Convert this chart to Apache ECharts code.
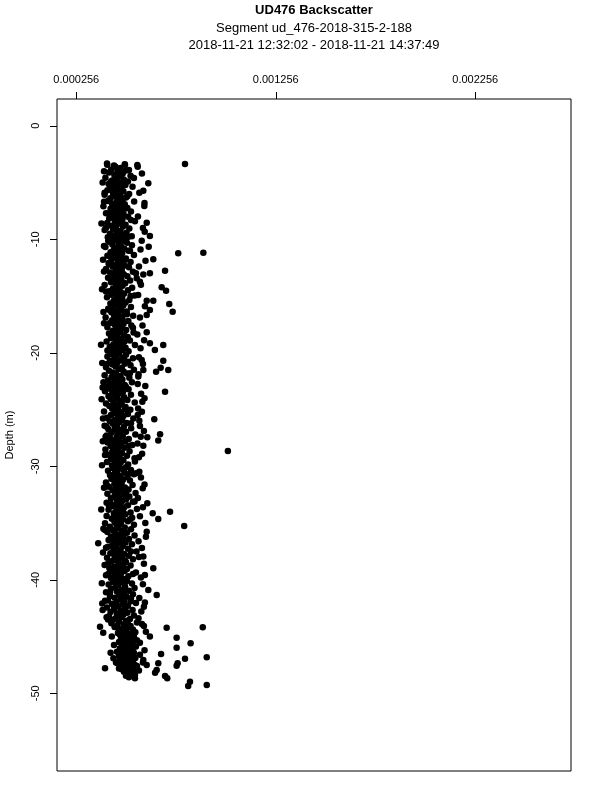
<!DOCTYPE html>
<html><head><meta charset="utf-8">
<script src="https://cdn.jsdelivr.net/npm/echarts@6/dist/echarts.min.js"></script>
<style>html,body{margin:0;padding:0;background:#fff}#chart{width:600px;height:800px}</style>
</head><body><div id="chart"></div>
<script>
const titleLines = ['UD476 Backscatter', 'Segment ud_476-2018-315-2-188', '2018-11-21 12:32:02 - 2018-11-21 14:37:49'];
const yAxisName = 'Depth (m)';
const xTicks = [0.000256, 0.001256, 0.002256];
const yTicks = [0, -10, -20, -30, -40, -50];
// points: [backscatter in units of 1e-6, depth in m]
const pointsA = [[410,-3.32],[499,-3.38],[562,-3.45],[452,-3.61],[478,-3.72],[431,-3.85],[505,-3.93],[462,-4.04],[420,-4.12],[489,-4.21],[447,-4.33],[528,-4.41],[470,-4.47],[402,-4.58],[458,-4.66],[494,-4.74],[436,-4.83],[515,-4.91],[474,-4.99],[445,-5.08],[418,-5.14],[502,-5.22],[466,-5.31],[538,-5.37],[430,-5.45],[481,-5.52],[455,-5.61],[412,-5.68],[492,-5.77],[468,-5.84],[440,-5.93],[521,-6.01],[398,-6.07],[476,-6.15],[450,-6.22],[505,-6.31],[427,-6.38],[463,-6.46],[488,-6.53],[414,-6.62],[546,-6.68],[457,-6.77],[435,-6.85],[499,-6.92],[472,-7.01],[392,-7.08],[451,-7.16],[512,-7.24],[428,-7.31],[484,-7.39],[461,-7.47],[530,-7.55],[443,-7.62],[405,-7.71],[493,-7.78],[470,-7.86],[437,-7.94],[516,-8.02],[458,-8.09],[421,-8.17],[487,-8.26],[449,-8.33],[550,-8.41],[476,-8.48],[411,-8.57],[465,-8.64],[503,-8.72],[432,-8.81],[490,-8.88],[455,-8.96],[522,-9.04],[441,-9.11],[398,-9.19],[478,-9.27],[460,-9.35],[508,-9.42],[425,-9.51],[486,-9.58],[447,-9.66],[534,-9.73],[414,-9.82],[469,-9.89],[495,-9.97],
[445,-3.5],[520,-3.9],[395,-4.0],[480,-4.3],[545,-4.6],[430,-4.9],[490,-5.2],[460,-5.5],[398,-5.9],[512,-6.2],[470,-6.6],[440,-7.0],[498,-7.3],[420,-7.7],[482,-8.0],[530,-8.3],[450,-8.7],[405,-9.0],[470,-9.4],[515,-9.8],[438,-10.0]];
const pointsB = [[455,-10.05],[492,-10.13],[421,-10.21],[510,-10.3],[468,-10.37],[437,-10.45],[535,-10.52],[480,-10.61],[402,-10.68],[458,-10.76],[497,-10.84],[444,-10.92],[518,-11.0],[472,-11.07],[428,-11.15],[486,-11.23],[461,-11.31],[545,-11.38],[412,-11.46],[478,-11.54],[450,-11.62],[505,-11.69],[433,-11.77],[490,-11.85],[466,-11.93],[528,-12.0],[418,-12.08],[475,-12.16],[447,-12.24],[499,-12.31],[438,-12.39],[520,-12.47],[462,-12.55],[405,-12.62],[484,-12.7],[453,-12.78],[540,-12.86],[426,-12.93],[470,-13.01],[494,-13.09],[441,-13.17],[512,-13.25],[458,-13.32],[415,-13.4],[481,-13.48],[448,-13.56],[526,-13.63],[467,-13.71],[430,-13.79],[501,-13.87],[455,-13.95],[398,-14.02],[488,-14.1],[473,-14.18],[536,-14.26],[440,-14.33],[462,-14.41],[515,-14.49],[422,-14.57],[479,-14.64],[451,-14.72],[495,-14.8],[434,-14.88],[548,-14.96],[468,-15.03],[410,-15.11],[486,-15.19],[457,-15.27],[522,-15.34],[444,-15.42],[475,-15.5],[503,-15.58],[427,-15.66],[461,-15.73],[492,-15.81],[438,-15.89],[530,-15.97],[470,-16.04],[416,-16.12],[483,-16.2],[452,-16.28],[509,-16.36],[432,-16.43],[466,-16.51],[498,-16.59],[445,-16.67],[541,-16.74],[477,-16.82],[403,-16.9],[459,-16.98],[488,-17.06],[436,-17.13],[517,-17.21],[464,-17.29],[425,-17.37],[493,-17.44],[449,-17.52],[532,-17.6],[471,-17.68],[412,-17.76],[485,-17.83],[456,-17.91],[506,-17.99],[439,-18.07],[474,-18.14],[543,-18.22],[420,-18.3],[462,-18.38],[497,-18.46],[447,-18.53],[514,-18.61],[430,-18.69],[480,-18.77],[455,-18.85],[525,-18.92],[408,-19.0],[468,-19.08],[490,-19.16],[442,-19.24],[550,-19.31],[476,-19.39],[424,-19.47],[503,-19.55],[459,-19.63],[435,-19.71],[486,-19.78],[518,-19.86],[450,-19.94],
[470,-10.2],[395,-10.6],[525,-11.0],[448,-11.4],[500,-11.8],[420,-12.2],[478,-12.6],[555,-13.0],[440,-13.4],[492,-13.8],[460,-14.2],[405,-14.6],[528,-15.0],[450,-15.4],[485,-15.8],[420,-16.2],[510,-16.6],[462,-17.0],[395,-17.4],[540,-17.8],[475,-18.2],[432,-18.6],[498,-19.0],[455,-19.4],[412,-19.8]];
const pointsC = [[470,-20.02],[432,-20.1],[505,-20.18],[458,-20.26],[412,-20.33],[488,-20.41],[540,-20.49],[446,-20.57],[476,-20.65],[425,-20.72],[515,-20.8],[462,-20.88],[498,-20.96],[438,-21.04],[528,-21.11],[452,-21.19],[405,-21.27],[484,-21.35],[468,-21.43],[545,-21.5],[420,-21.58],[493,-21.66],[441,-21.74],[510,-21.82],[457,-21.89],[398,-21.97],[478,-22.05],[433,-22.13],[522,-22.21],[466,-22.28],[487,-22.36],[415,-22.44],[450,-22.52],[535,-22.6],[472,-22.67],[427,-22.75],[499,-22.83],[455,-22.91],[410,-22.99],[482,-23.06],[445,-23.14],[518,-23.22],[463,-23.3],[400,-23.38],[490,-23.45],[437,-23.53],[470,-23.61],[530,-23.69],[452,-23.77],[418,-23.84],[496,-23.92],[460,-24.0],[428,-24.08],[512,-24.16],[475,-24.23],[443,-24.31],[549,-24.39],[405,-24.47],[484,-24.55],[458,-24.62],[422,-24.7],[503,-24.78],[466,-24.86],[436,-24.94],[527,-25.01],[448,-25.09],[395,-25.17],[479,-25.25],[457,-25.33],[515,-25.4],[430,-25.48],[492,-25.56],[468,-25.64],[410,-25.72],[542,-25.79],[451,-25.87],[486,-25.95],[424,-26.03],[472,-26.11],[508,-26.18],[440,-26.26],[461,-26.34],[398,-26.42],[495,-26.5],[453,-26.57],[531,-26.65],[417,-26.73],[477,-26.81],[446,-26.89],[505,-26.96],[432,-27.04],[470,-27.12],[552,-27.2],[408,-27.28],[489,-27.35],[458,-27.43],[425,-27.51],[519,-27.59],[465,-27.67],[441,-27.74],[500,-27.82],[413,-27.9],[480,-27.98],[452,-28.06],[537,-28.13],[428,-28.21],[474,-28.29],[497,-28.37],[445,-28.45],[402,-28.52],[463,-28.6],[523,-28.68],[436,-28.76],[485,-28.84],[456,-28.91],[418,-28.99],[510,-29.07],[471,-29.15],[443,-29.23],[548,-29.3],[430,-29.38],[492,-29.46],[460,-29.54],[410,-29.62],[478,-29.69],[450,-29.77],[516,-29.85],[435,-29.93],
[445,-20.2],[495,-20.6],[410,-21.0],[470,-21.4],[525,-21.8],[440,-22.2],[392,-22.6],[505,-23.0],[460,-23.4],[420,-23.8],[485,-24.2],[440,-24.6],[500,-25.0],[465,-25.4],[390,-25.8],[530,-26.2],[450,-26.6],[490,-27.0],[415,-27.4],[470,-27.8],[520,-28.2],[440,-28.6],[400,-29.0],[485,-29.4],[455,-29.8]];
const pointsD = [[470,-30.01],[505,-30.09],[442,-30.17],[488,-30.25],[530,-30.32],[415,-30.4],[462,-30.48],[497,-30.56],[450,-30.64],[545,-30.71],[428,-30.79],[478,-30.87],[512,-30.95],[458,-31.03],[436,-31.1],[490,-31.18],[525,-31.26],[466,-31.34],[405,-31.42],[483,-31.49],[447,-31.57],[538,-31.65],[472,-31.73],[420,-31.81],[500,-31.88],[456,-31.96],[518,-32.04],[438,-32.12],[481,-32.2],[465,-32.27],[553,-32.35],[412,-32.43],[494,-32.51],[448,-32.59],[522,-32.66],[470,-32.74],[430,-32.82],[506,-32.9],[459,-32.98],[487,-33.05],[540,-33.13],[425,-33.21],[474,-33.29],[452,-33.37],[515,-33.44],[440,-33.52],[496,-33.6],[468,-33.68],[560,-33.76],[418,-33.84],[484,-33.91],[455,-33.99],[528,-34.07],[445,-34.15],[502,-34.23],[476,-34.3],[408,-34.38],[462,-34.46],[536,-34.54],[434,-34.62],[490,-34.69],[470,-34.77],[515,-34.85],[448,-34.93],[400,-35.01],[480,-35.08],[545,-35.16],[458,-35.24],[424,-35.32],[499,-35.4],[466,-35.47],[530,-35.55],[440,-35.63],[485,-35.71],[412,-35.79],[510,-35.86],[452,-35.94],[475,-36.02],[548,-36.1],[430,-36.18],[492,-36.25],[460,-36.33],[520,-36.41],[418,-36.49],[482,-36.57],[446,-36.64],[503,-36.72],[470,-36.8],[535,-36.88],[436,-36.96],[490,-37.03],[455,-37.11],[405,-37.19],[515,-37.27],[478,-37.35],[442,-37.42],[558,-37.5],[464,-37.58],[427,-37.66],[496,-37.74],[472,-37.81],[520,-37.89],[448,-37.97],[410,-38.05],[486,-38.13],[540,-38.2],[458,-38.28],[432,-38.36],[505,-38.44],[468,-38.52],[415,-38.59],[492,-38.67],[528,-38.75],[445,-38.83],[476,-38.91],[422,-38.98],[510,-39.06],[460,-39.14],[498,-39.22],[438,-39.3],[555,-39.37],[480,-39.45],[452,-39.53],[405,-39.61],[517,-39.69],[466,-39.76],[430,-39.84],[490,-39.92],
[450,-30.3],[515,-30.7],[432,-31.1],[478,-31.5],[395,-31.9],[505,-32.3],[460,-32.7],[548,-33.1],[420,-33.5],[490,-33.9],[445,-34.3],[525,-34.7],[465,-35.1],[392,-35.5],[500,-35.9],[440,-36.3],[470,-36.7],[415,-37.1],[530,-37.5],[455,-37.9],[500,-38.3],[398,-38.7],[485,-39.1],[540,-39.5],[445,-39.9]];
const pointsE = [[475,-40.02],[510,-40.1],[440,-40.18],[492,-40.26],[535,-40.33],[418,-40.41],[465,-40.49],[500,-40.57],[452,-40.65],[548,-40.72],[430,-40.8],[485,-40.88],[520,-40.96],[460,-41.04],[405,-41.11],[495,-41.19],[540,-41.27],[470,-41.35],[425,-41.43],[508,-41.5],[448,-41.58],[530,-41.66],[480,-41.74],[415,-41.82],[498,-41.89],[458,-41.97],[555,-42.05],[436,-42.13],[488,-42.21],[515,-42.28],[465,-42.36],[410,-42.44],[502,-42.52],[445,-42.6],[538,-42.67],[478,-42.75],[428,-42.83],[512,-42.91],[460,-42.99],[492,-43.06],[545,-43.14],[420,-43.22],[482,-43.3],[455,-43.38],[525,-43.45],[440,-43.53],[505,-43.61],[470,-43.69],[560,-43.77],[432,-43.84],[495,-43.92],[462,-44.0],[528,-44.08],[448,-44.16],[512,-44.24],[485,-44.31],[540,-44.39],[470,-44.47],[505,-44.55],[552,-44.63],[490,-44.7],[525,-44.78],[476,-44.86],[515,-44.94],[545,-45.02],[498,-45.09],[530,-45.17],[480,-45.25],[560,-45.33],[510,-45.41],[470,-45.48],[538,-45.56],[502,-45.64],[520,-45.72],[488,-45.8],[555,-45.87],[512,-45.95],[475,-46.03],[535,-46.11],[498,-46.19],[525,-46.26],[460,-46.34],[545,-46.42],[508,-46.5],[490,-46.58],[530,-46.65],[470,-46.73],[515,-46.81],[552,-46.89],[495,-46.97],[528,-47.04],[478,-47.12],[540,-47.2],[505,-47.28],[462,-47.36],[520,-47.43],[488,-47.51],[560,-47.59],[500,-47.67],[535,-47.75],[470,-47.82],[515,-47.9],[545,-48.0],[495,-48.1],[530,-48.25],[505,-48.45],[520,-48.6],
[455,-40.3],[500,-40.7],[425,-41.1],[480,-41.5],[530,-41.9],[445,-42.3],[495,-42.7],[470,-43.1],[415,-43.5],[515,-43.9],[500,-44.3],[465,-44.7],[530,-45.1],[495,-45.5],[545,-45.9],[485,-46.3],[520,-46.7],[505,-47.1],[550,-47.5],[480,-47.7],[510,-48.2]];
const pointsFringe = [[585,-4.2],[572,-5.9],[598,-6.8],[565,-8.0],[590,-9.0],[578,-10.9],[603,-11.9],[570,-12.4],[592,-13.1],[580,-14.0],[566,-14.9],[600,-15.9],[575,-16.9],[588,-17.6],[562,-18.4],[596,-18.9],[578,-19.6],[570,-20.4],[590,-21.0],[568,-21.9],[581,-23.6],[598,-24.0],[566,-24.9],[585,-25.2],[572,-26.0],[595,-26.9],[563,-28.0],[586,-28.9],[570,-29.2],[580,-31.0],[598,-31.6],[565,-32.8],[590,-33.6],[575,-34.4],[602,-35.0],[568,-36.6],[585,-37.2],[570,-38.0],[595,-38.6],[580,-39.8],[590,-40.4],[572,-41.6],[600,-42.0],[582,-42.8],[568,-43.4],[585,-43.9],[598,-46.2],[575,-46.6],[590,-47.3],[570,-48.0],
[388,-5.0],[382,-8.6],[390,-11.8],[385,-14.4],[392,-16.4],[380,-19.3],[386,-20.9],[383,-24.1],[389,-27.8],[385,-29.9],[381,-33.8],[390,-37.6],[384,-40.3],[386,-42.1]];
const pointsOutliers = [[411,-3.43],[500,-3.43],[564,-3.6],[801,-3.37],[617,-5.07],[592,-5.72],[597,-7.07],[395,-6.69],[609,-8.54],[599,-9.33],[625,-9.71],[584,-10.12],[619,-10.65],[767,-11.23],[893,-11.18],[642,-11.76],[701,-12.77],[625,-13.0],[684,-14.23],[706,-14.53],[722,-15.7],[609,-15.41],[642,-15.41],[559,-13.44],[575,-13.74],[425,-11.47],[395,-12.85],[416,-10.12],
[739,-16.38],[609,-16.67],[625,-16.23],[609,-18.19],[625,-19.16],[650,-19.75],[692,-19.31],[584,-20.63],[692,-20.7],[679,-21.31],[717,-21.52],[656,-21.67],[592,-21.52],[567,-22.1],[564,-22.75],[602,-22.93],[701,-23.43],[388,-23.07],[425,-23.16],[416,-22.46],[587,-24.31],[564,-25.48],[647,-25.86],[575,-26.45],[403,-27.39],[579,-27.39],[612,-27.44],[676,-27.18],[667,-27.74],[592,-28.19],[408,-26.51],[1016,-28.65],
[550,-29.59],[572,-30.48],[555,-30.62],[408,-31.65],[425,-30.77],[589,-31.94],[408,-33.21],[612,-33.26],[639,-34.14],[667,-34.64],[726,-34.0],[797,-35.26],[366,-36.78],[400,-35.61],[605,-36.2],[609,-35.76],[592,-37.96],[642,-38.99],[600,-39.58],[617,-40.9],[659,-41.34],[400,-41.84],[416,-39.49],
[375,-44.13],[391,-44.66],[709,-44.22],[890,-44.19],[759,-45.1],[759,-45.98],[829,-45.6],[681,-46.54],[910,-46.83],[801,-46.95],[764,-47.36],[759,-47.57],[667,-47.36],[659,-47.95],[651,-48.19],[701,-48.48],[712,-48.68],[826,-48.98],[817,-49.36],[910,-49.27],[400,-47.8],[484,-47.89],[505,-47.89],[550,-48.39],[550,-48.68],[609,-47.51],[592,-47.07],[625,-45.01],[605,-44.57],[595,-44.07],[595,-42.37],[388,-42.66],[408,-43.3],[434,-45.01],[445,-45.74],[428,-46.42],[442,-46.92],[467,-44.71],[475,-47.08],[455,-47.3],[522,-47.36],[575,-45.54]];

const UNIT = 1e-6;
const allPoints = [].concat(pointsA, pointsB, pointsC, pointsD, pointsE, pointsFringe, pointsOutliers)
  .map(p => [p[0] * UNIT, p[1]]);

const FONT = "'Liberation Sans', Arial, Helvetica, sans-serif";
const chart = echarts.init(document.getElementById('chart'), null, {renderer: 'canvas'});
chart.setOption({
  animation: false,
  backgroundColor: '#ffffff',
  graphic: [
    {type: 'text', x: 314, y: 10, style: {text: titleLines[0], font: "bold 13px " + FONT, fill: '#000', textAlign: 'center', textVerticalAlign: 'middle'}},
    {type: 'text', x: 314, y: 28, style: {text: titleLines[1], font: "13px " + FONT, fill: '#000', textAlign: 'center', textVerticalAlign: 'middle'}},
    {type: 'text', x: 314, y: 45, style: {text: titleLines[2], font: "13px " + FONT, fill: '#000', textAlign: 'center', textVerticalAlign: 'middle'}}
  ],
  grid: {left: 57, right: 29, top: 99, bottom: 29, containLabel: false, outerBoundsMode: 'none',
    show: true, borderColor: '#000', borderWidth: 1, backgroundColor: 'transparent'},
  xAxis: {
    type: 'value', position: 'top', min: 0.0001593, max: 0.002736,
    axisLine: {show: false, onZero: false},
    splitLine: {show: false},
    axisTick: {show: true, length: 7, lineStyle: {color: '#000'}, customValues: xTicks},
    axisLabel: {show: true, customValues: xTicks, margin: 14, color: '#000', fontSize: 11, fontFamily: FONT,
      formatter: v => v.toFixed(6)}
  },
  yAxis: {
    type: 'value', min: -56.85, max: 2.36,
    name: yAxisName, nameLocation: 'middle', nameRotate: 90, nameGap: 42,
    nameTextStyle: {color: '#000', fontSize: 11, fontFamily: FONT},
    axisLine: {show: false, onZero: false},
    splitLine: {show: false},
    axisTick: {show: true, length: 7, lineStyle: {color: '#000'}, customValues: yTicks},
    axisLabel: {show: true, customValues: yTicks, rotate: 90, margin: 16, color: '#000', fontSize: 11, fontFamily: FONT}
  },
  series: [{
    type: 'scatter', data: allPoints, symbol: 'circle', symbolSize: 6.5,
    itemStyle: {color: '#000', opacity: 1}, silent: true
  }]
});
</script></body></html>
